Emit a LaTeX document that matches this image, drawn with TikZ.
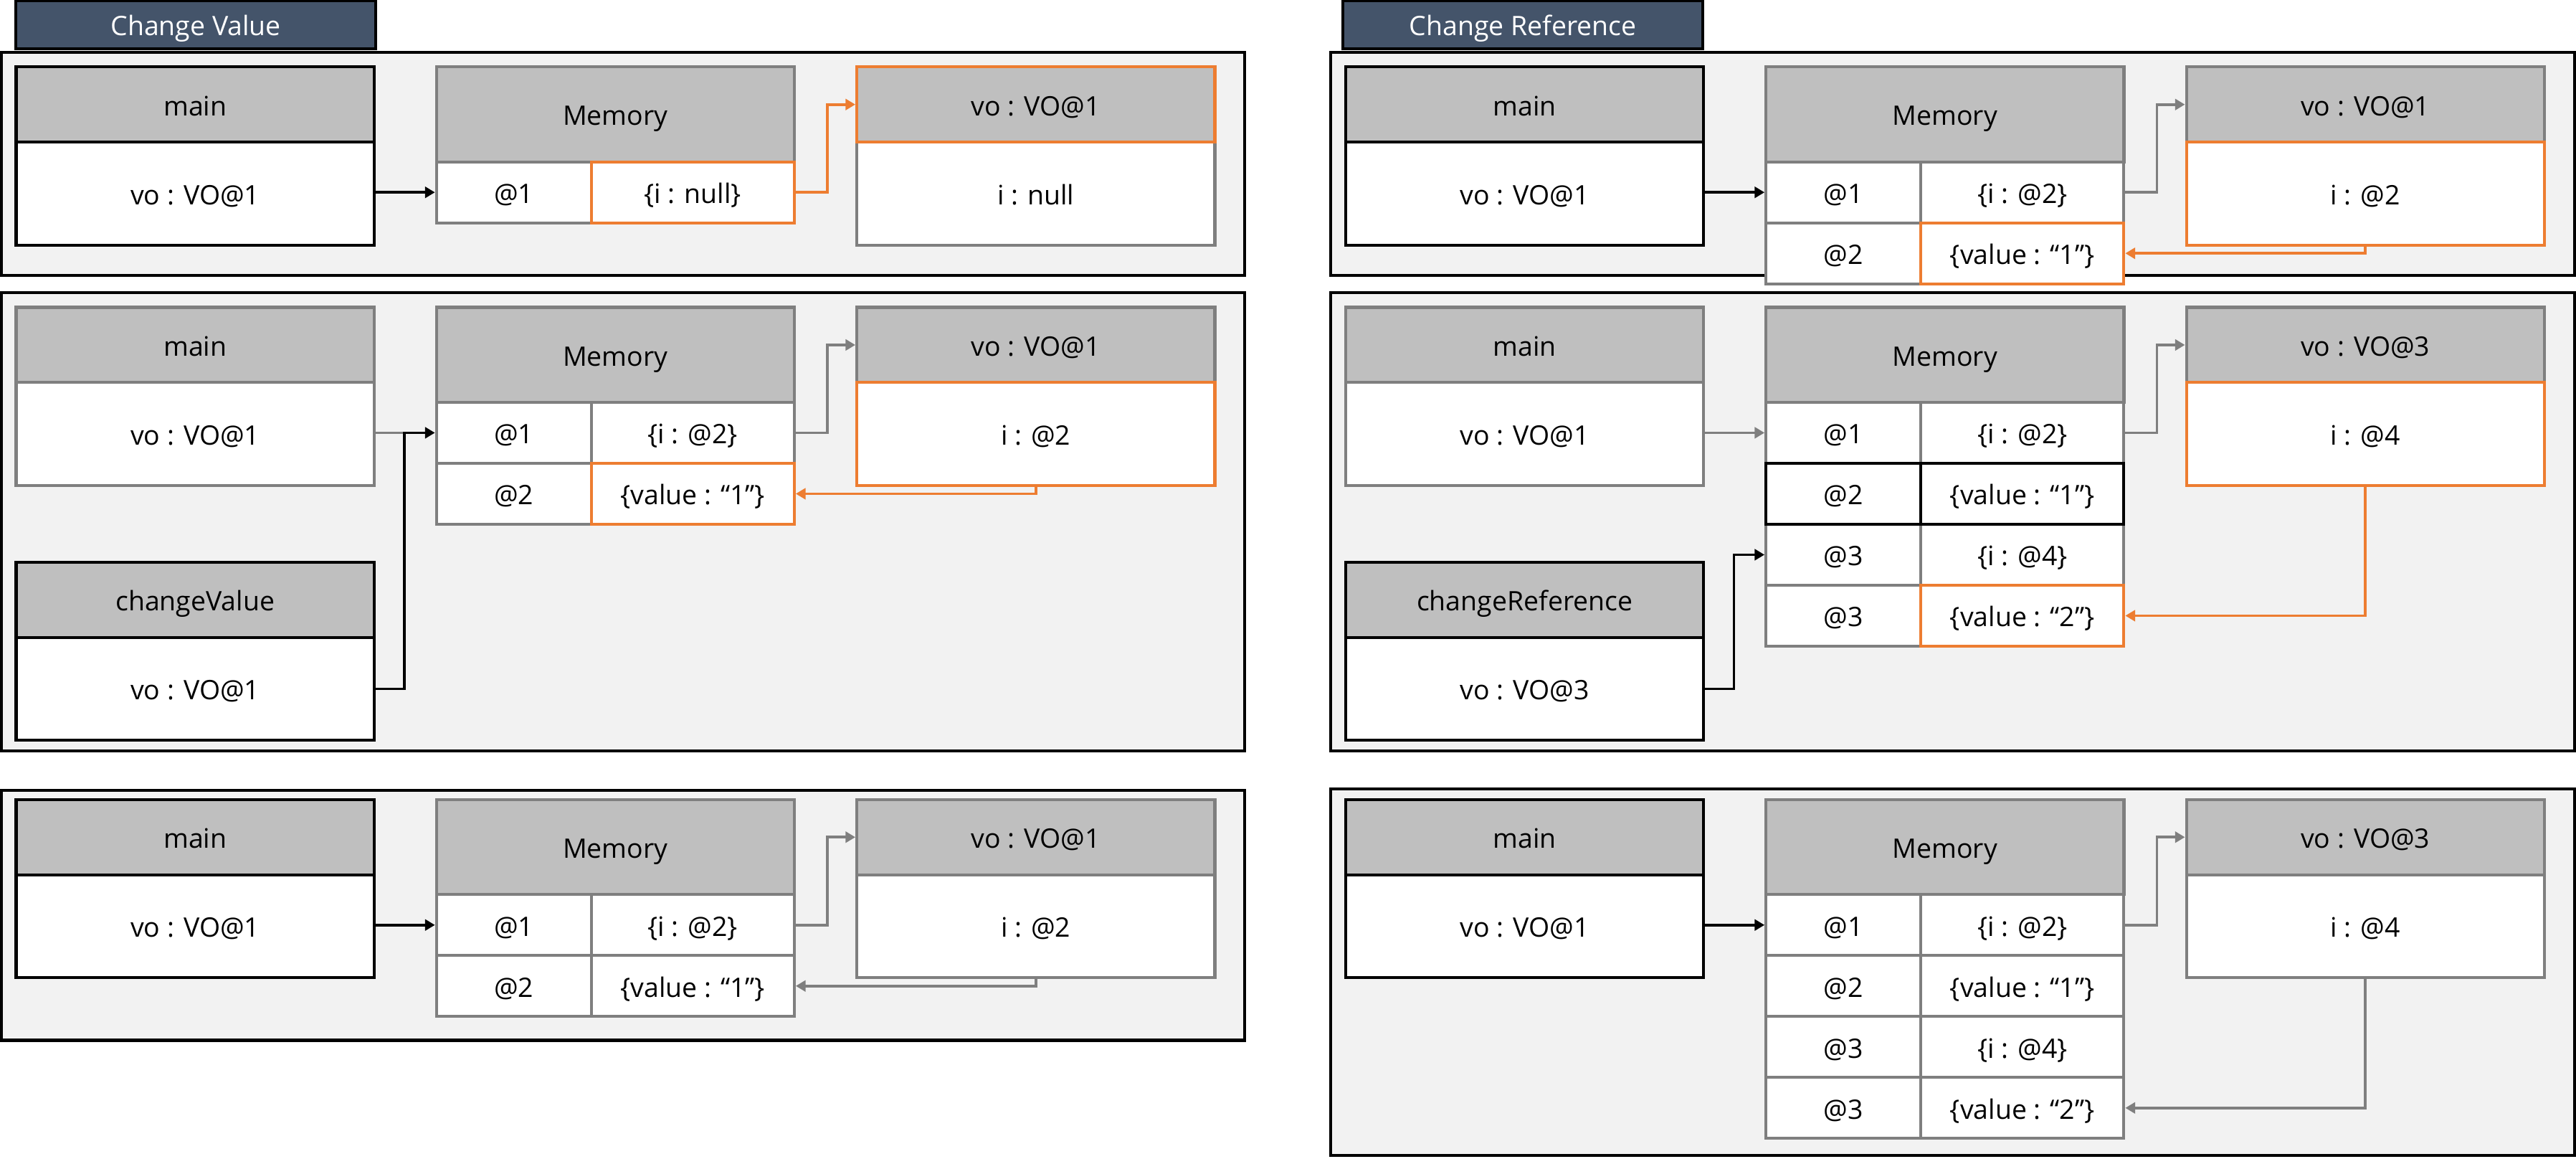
\documentclass[tikz,border=0pt]{standalone}
\usepackage{fontspec}
\setmainfont{Open Sans}
\usepackage{tikz}
\usetikzlibrary{arrows.meta}
\definecolor{panelgray}{HTML}{F2F2F2}
\definecolor{headgray}{HTML}{BFBFBF}
\definecolor{linegray}{HTML}{7F7F7F}
\definecolor{vorange}{HTML}{ED7D31}
\definecolor{titleblue}{HTML}{44546A}

\begin{document}
\begin{tikzpicture}[x=0.02cm, y=-0.02cm, >={Triangle[length=3.4pt,width=3.8pt]},
    font=\fontsize{9.3}{11}\selectfont,
    every node/.style = {text height=0.76em, text depth=0pt},
    panelbox/.style = {draw=black, fill=panelgray, line width=1pt},
    titlebox/.style = {draw=black, fill=titleblue, text=white, line width=1pt, inner sep=0pt,
        minimum width=4.38cm, minimum height=0.58cm},
    headbox/.style = {draw=linegray, fill=headgray, line width=1pt, inner sep=0pt,
        minimum width=4.36cm, minimum height=0.916cm},
    bodybox/.style = {draw=linegray, fill=white, line width=1pt, inner sep=0pt,
        minimum width=4.36cm, minimum height=1.252cm},
    memhead/.style = {headbox, minimum height=1.156cm},
    addrcell/.style = {draw=linegray, fill=white, line width=1pt, inner sep=0pt,
        minimum width=1.886cm, minimum height=0.742cm},
    valcell/.style = {addrcell, minimum width=2.472cm},
    ptr/.style = {->, line width=0.9pt}]
    \useasboundingbox (0,0) rectangle (1568,705);

    % Change Value
    \node[titlebox] (vtitle) at (119.2,15) {Change Value};

    % panel 1
    \draw[panelbox] (1,32) rectangle (757.5,167.6);
    \node[bodybox, draw=black] (v1mainb) at (118.8,117.8) {vo : VO@1};
    \node[headbox, draw=black] (v1mainh) at (118.8,63.6) {main};
    \node[memhead] (v1mem) at (374.55,69.6) {Memory};
    \node[addrcell] (v1a1) at (312.75,117.05) {@1};
    \node[valcell, draw=vorange] (v1v1) at (421.7,117.05) {\{i : null\}};
    \node[bodybox] (v1vob) at (630.5,117.8) {i : null};
    \node[headbox, draw=vorange] (v1voh) at (630.5,63.6) {vo : VO@1};

    \draw[ptr] (v1mainb.east |- v1a1) -- (v1a1.west);
    \draw[ptr, vorange] (v1v1.east) -- ++(19.2,0) |- (v1voh.west);

    % panel 2
    \draw[panelbox] (1,178) rectangle (757.5,457);
    \node[bodybox] (v2mainb) at (118.8,264.1) {vo : VO@1};
    \node[headbox] (v2mainh) at (118.8,209.9) {main};
    \node[bodybox, draw=black] (v2cvb) at (118.8,419.1) {vo : VO@1};
    \node[headbox, draw=black] (v2cvh) at (118.8,364.9) {changeValue};
    \node[memhead] (v2mem) at (374.55,215.9) {Memory};
    \node[addrcell] (v2a1) at (312.75,263.35) {@1};
    \node[valcell] (v2v1) at (421.7,263.35) {\{i : @2\}};
    \node[addrcell] (v2a2) at (312.75,300.45) {@2};
    \node[valcell, draw=vorange] (v2v2) at (421.7,300.45) {\{value : “1”\}};
    \node[headbox] (v2voh) at (630.5,209.9) {vo : VO@1};
    \node[bodybox, draw=vorange] (v2vob) at (630.5,264.1) {i : @2};

    \draw[linegray, line width=0.9pt] (v2mainb.east |- v2a1) -- ++(17.5,0);
    \draw[ptr] (v2cvb.east) -- ++(17.5,0) |- (v2a1.west);
    \draw[ptr, linegray] (v2v1.east) -- ++(19.2,0) |- (v2voh.west);
    \draw[ptr, vorange] (v2vob.south) |- (v2v2.east);

    % panel 3
    \draw[panelbox] (1,481) rectangle (757.5,633);
    \node[bodybox, draw=black] (v3mainb) at (118.8,563.6) {vo : VO@1};
    \node[headbox, draw=black] (v3mainh) at (118.8,509.4) {main};
    \node[memhead] (v3mem) at (374.55,515.4) {Memory};
    \node[addrcell] (v3a1) at (312.75,562.85) {@1};
    \node[valcell] (v3v1) at (421.7,562.85) {\{i : @2\}};
    \node[addrcell] (v3a2) at (312.75,599.95) {@2};
    \node[valcell] (v3v2) at (421.7,599.95) {\{value : “1”\}};
    \node[headbox] (v3voh) at (630.5,509.4) {vo : VO@1};
    \node[bodybox] (v3vob) at (630.5,563.6) {i : @2};

    \draw[ptr] (v3mainb.east |- v3a1) -- (v3a1.west);
    \draw[ptr, linegray] (v3v1.east) -- ++(19.2,0) |- (v3voh.west);
    \draw[ptr, linegray] (v3vob.south) |- (v3v2.east);

    % Change Reference
    \node[titlebox] (rtitle) at (927,15) {Change Reference};

    % panel 1
    \draw[panelbox] (810,32) rectangle (1567,167.6);
    \node[bodybox, draw=black] (r1mainb) at (928.1,117.8) {vo : VO@1};
    \node[headbox, draw=black] (r1mainh) at (928.1,63.6) {main};
    \node[memhead] (r1mem) at (1183.85,69.6) {Memory};
    \node[addrcell] (r1a1) at (1122.05,117.05) {@1};
    \node[valcell] (r1v1) at (1231,117.05) {\{i : @2\}};
    \node[addrcell] (r1a2) at (1122.05,154.15) {@2};
    \node[valcell, draw=vorange] (r1v2) at (1231,154.15) {\{value : “1”\}};
    \node[headbox] (r1voh) at (1439.8,63.6) {vo : VO@1};
    \node[bodybox, draw=vorange] (r1vob) at (1439.8,117.8) {i : @2};

    \draw[ptr] (r1mainb.east |- r1a1) -- (r1a1.west);
    \draw[ptr, linegray] (r1v1.east) -- ++(19.2,0) |- (r1voh.west);
    \draw[ptr, vorange] (r1vob.south) |- (r1v2.east);

    % panel 2
    \draw[panelbox] (810,178) rectangle (1567,457);
    \node[bodybox] (r2mainb) at (928.1,264.1) {vo : VO@1};
    \node[headbox] (r2mainh) at (928.1,209.9) {main};
    \node[bodybox, draw=black] (r2crb) at (928.1,419.1) {vo : VO@3};
    \node[headbox, draw=black] (r2crh) at (928.1,364.9) {changeReference};
    \node[memhead] (r2mem) at (1183.85,215.9) {Memory};
    \node[addrcell] (r2a1) at (1122.05,263.35) {@1};
    \node[valcell] (r2v1) at (1231,263.35) {\{i : @2\}};
    \node[addrcell] (r2a3) at (1122.05,337.55) {@3};
    \node[valcell] (r2v3) at (1231,337.55) {\{i : @4\}};
    \node[addrcell] (r2a4) at (1122.05,374.65) {@3};
    \node[valcell, draw=vorange] (r2v4) at (1231,374.65) {\{value : “2”\}};
    \node[addrcell, draw=black] (r2a2) at (1122.05,300.45) {@2};
    \node[valcell, draw=black] (r2v2) at (1231,300.45) {\{value : “1”\}};
    \node[headbox] (r2voh) at (1439.8,209.9) {vo : VO@3};
    \node[bodybox, draw=vorange] (r2vob) at (1439.8,264.1) {i : @4};

    \draw[ptr, linegray] (r2mainb.east |- r2a1) -- (r2a1.west);
    \draw[ptr] (r2crb.east) -- ++(17.5,0) |- (r2a3.west);
    \draw[ptr, linegray] (r2v1.east) -- ++(19.2,0) |- (r2voh.west);
    \draw[ptr, vorange] (r2vob.south) |- (r2v4.east);

    % panel 3
    \draw[panelbox] (810,480) rectangle (1567,703);
    \node[bodybox, draw=black] (r3mainb) at (928.1,563.6) {vo : VO@1};
    \node[headbox, draw=black] (r3mainh) at (928.1,509.4) {main};
    \node[memhead] (r3mem) at (1183.85,515.4) {Memory};
    \node[addrcell] (r3a1) at (1122.05,562.85) {@1};
    \node[valcell] (r3v1) at (1231,562.85) {\{i : @2\}};
    \node[addrcell] (r3a2) at (1122.05,599.95) {@2};
    \node[valcell] (r3v2) at (1231,599.95) {\{value : “1”\}};
    \node[addrcell] (r3a3) at (1122.05,637.05) {@3};
    \node[valcell] (r3v3) at (1231,637.05) {\{i : @4\}};
    \node[addrcell] (r3a4) at (1122.05,674.15) {@3};
    \node[valcell] (r3v4) at (1231,674.15) {\{value : “2”\}};
    \node[headbox] (r3voh) at (1439.8,509.4) {vo : VO@3};
    \node[bodybox] (r3vob) at (1439.8,563.6) {i : @4};

    \draw[ptr] (r3mainb.east |- r3a1) -- (r3a1.west);
    \draw[ptr, linegray] (r3v1.east) -- ++(19.2,0) |- (r3voh.west);
    \draw[ptr, linegray] (r3vob.south) |- (r3v4.east);
\end{tikzpicture}
\end{document}
